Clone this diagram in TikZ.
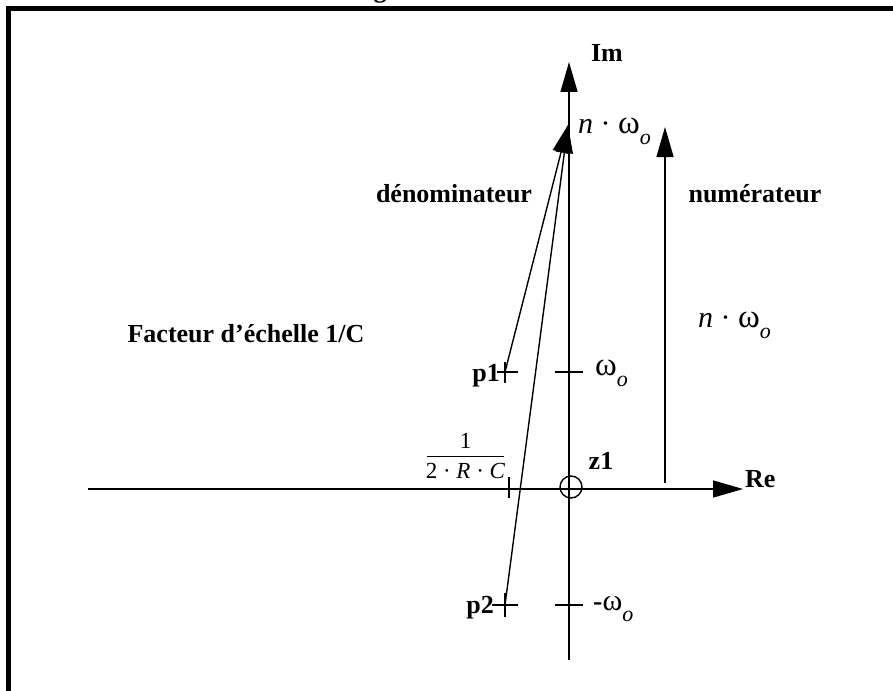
\documentclass[tikz,border=0pt]{standalone}
\usepackage{fontspec}
\setmainfont{Liberation Serif}
\usetikzlibrary{arrows.meta}
\newcommand\sbo{\raisebox{-11pt}{\fontsize{22}{22}\selectfont\mdseries\itshape o}}
\newcommand\omg{{\fontsize{33}{34}\selectfont ω}}
\begin{document}
\begin{tikzpicture}[x=1pt,y=-1pt,
  ln/.style={line width=1.4pt},
  bl/.style={font=\fontsize{26}{30}\selectfont\bfseries, inner sep=0pt},
  ml/.style={font=\fontsize{30}{34}\selectfont, inner sep=0pt},
  fr/.style={font=\fontsize{23}{25}\selectfont, inner sep=0pt},
  bigarrow/.style={-{Triangle[length=30pt,width=17pt]}},
  smallarrow/.style={-{Triangle[length=28pt,width=17pt]}}
]
\useasboundingbox (0,0) rectangle (893,690);
% frame
\draw[line width=5pt] (8.5,700) -- (8.5,8.5) -- (900,8.5);
\node[bl,anchor=base] (gfrag) at (380,-2.5) {g};
% axes
\coordinate (imb) at (569,660);
\coordinate (imt) at (569,62);
\draw[ln,bigarrow] (imb) -- (imt);
\coordinate (rel) at (88,489);
\coordinate (rer) at (743,489);
\draw[ln,bigarrow] (rel) -- (rer);
\node[bl,anchor=base] (im) at (607,62) {Im};
\node[bl,anchor=base west] (re) at (745,487) {Re};
% zero
\node[draw,circle,ln,minimum size=22pt,inner sep=0pt] (z1c) at (571,487) {};
\node[bl,anchor=base] (z1) at (601,469) {z1};
% ticks on Im axis
\coordinate (wl) at (555,372); \coordinate (wr) at (583,372);
\draw[ln] (wl) -- (wr);
\coordinate (mwl) at (555,605); \coordinate (mwr) at (583,605);
\draw[ln] (mwl) -- (mwr);
\node[ml,anchor=base west] (wlab) at (595,375) {\omg\sbo};
\node[font=\fontsize{28}{32}\selectfont, inner sep=0pt,anchor=base west] (mwlab) at (593,610) {\textbf{-}{\fontsize{30}{32}\selectfont ω}\sbo};
% tick on Re axis
\coordinate (rt1) at (509,477); \coordinate (rt2) at (509,498);
\draw[ln] (rt1) -- (rt2);
% fraction
\node[fr,anchor=base] (num) at (465.5,448) {1};
\coordinate (barl) at (427,456); \coordinate (barr) at (504,456);
\draw[line width=0.8pt] (barl) -- (barr);
\node[fr,anchor=base] (den) at (465.5,478) {2 · \textit{R} · \textit{C}};
% poles
\coordinate (p1) at (505,372);
\coordinate (p1a) at (497,372); \coordinate (p1b) at (518,372);
\coordinate (p1c) at (505,362); \coordinate (p1d) at (505,383);
\draw[ln] (p1a) -- (p1b) (p1c) -- (p1d);
\node[bl,anchor=base east] (p1l) at (500,381) {p1};
\coordinate (p2) at (505,605);
\coordinate (p2a) at (492,605); \coordinate (p2b) at (518,605);
\coordinate (p2c) at (505,593); \coordinate (p2d) at (505,617);
\draw[ln] (p2a) -- (p2b) (p2c) -- (p2d);
\node[bl,anchor=base east] (p2l) at (494,613) {p2};
% denominator vectors
\coordinate (tip) at (568,125);
\draw[ln,smallarrow] (p1) -- (tip);
\draw[ln,smallarrow] (p2) -- (tip);
% numerator vector
\coordinate (nb) at (665,483);
\coordinate (nt) at (665,127);
\draw[ln,bigarrow] (nb) -- (nt);
% labels
\node[ml,anchor=base west] (nw1) at (578,133) {\textit{n} · \omg\sbo};
\node[ml,anchor=base west] (nw2) at (698,327) {\textit{n} · \omg\sbo};
\node[bl,anchor=base] (denl) at (454,202) {dénominateur};
\node[bl,anchor=base] (numl) at (755,202) {numérateur};
\node[bl,anchor=base] (fact) at (246,342) {Facteur d’échelle 1/C};
\end{tikzpicture}
\end{document}
